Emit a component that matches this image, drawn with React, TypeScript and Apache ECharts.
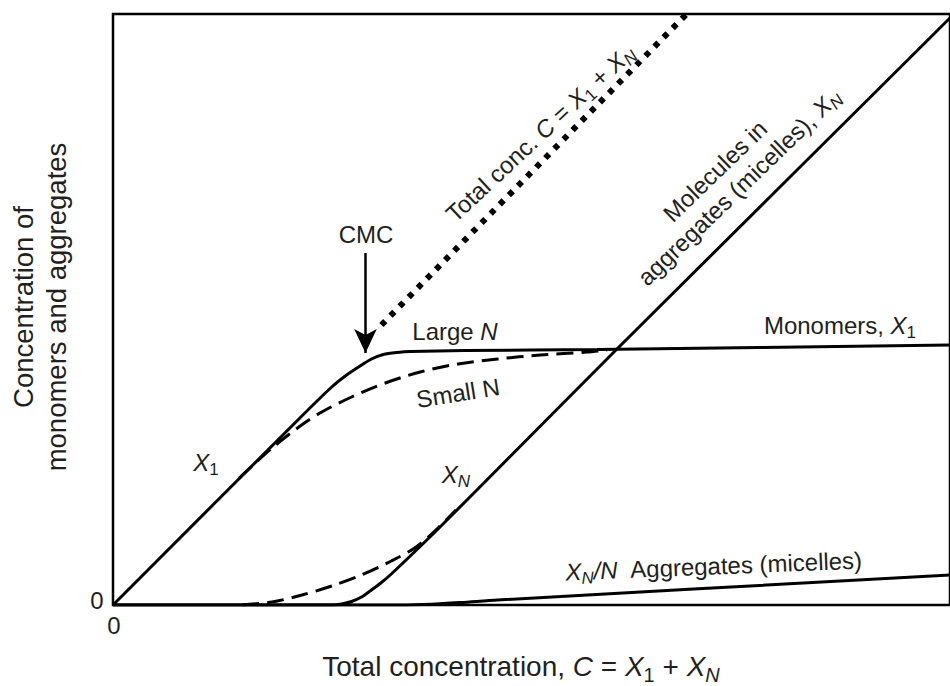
import React, { useEffect, useRef } from "react";
import * as echarts from "echarts";

// Schematic units (arbitrary): x = total concentration C, y = concentration
const X_MAX = 8.42;
const Y_MAX = 5.91;

// Monomers X1, large N (solid)
const monomerLargeN: number[][] = [
  [0, 0], [1.87, 1.86], [2.2, 2.18], [2.35, 2.3], [2.47, 2.38], [2.6, 2.46],
  [2.72, 2.505], [2.86, 2.525], [2.99, 2.535], [3.54, 2.545], [4.87, 2.555], [8.42, 2.6],
];
// Monomers X1, small N (dashed)
const monomerSmallN: number[][] = [
  [1.27, 1.27], [1.6, 1.57], [1.87, 1.78], [2.1, 1.93], [2.4, 2.08], [2.74, 2.22],
  [3.09, 2.33], [3.47, 2.41], [3.87, 2.46], [4.3, 2.5], [4.77, 2.53], [4.97, 2.55],
];
// Molecules in aggregates XN, large N (solid)
const aggLargeN: number[][] = [
  [0, 0], [2.2, 0], [2.3, 0.01], [2.4, 0.035], [2.5, 0.08], [2.6, 0.15], [2.7, 0.225],
  [2.8, 0.31], [3.27, 0.76], [4.07, 1.56], [5.07, 2.56], [8.42, 5.87],
];
// Molecules in aggregates XN, small N (dashed)
const aggSmallN: number[][] = [
  [1.3, 0], [1.6, 0.03], [1.9, 0.1], [2.2, 0.19], [2.5, 0.3], [2.8, 0.44],
  [3.05, 0.58], [3.27, 0.77], [3.45, 0.95],
];
// Aggregates (micelles) XN/N
const micelles: number[][] = [
  [0, 0], [2.9, 0], [3.2, 0.008], [3.5, 0.025], [3.87, 0.05], [8.42, 0.3],
];
// Total concentration C = X1 + XN (dotted)
const totalConc: number[][] = [
  [2.7, 2.8], [5.77, 5.91],
];
// CMC arrow
const cmcX = 2.54;
const cmcArrow: number[] = [3.52, 2.52];
// tick labels (only the origin is labelled on both axes)
const xTickLabels: number[] = [0];
const yTickLabels: number[] = [0];

const FONT = "'Liberation Sans', Arial, Helvetica, sans-serif";
const INK = "#231f20";

const rich = (fs: number) => ({
  n: { fontSize: fs, fontFamily: FONT, fill: INK, color: INK },
  i: { fontSize: fs, fontFamily: FONT, fontStyle: "italic", fill: INK, color: INK },
  s: { fontSize: Math.round(fs * 0.72), fontFamily: FONT, fill: INK, color: INK, padding: [Math.round(fs * 0.6), 0, 0, 0] },
  si: { fontSize: Math.round(fs * 0.72), fontFamily: FONT, fontStyle: "italic", fill: INK, color: INK, padding: [Math.round(fs * 0.6), 0, 0, 0] },
});

const label = (text: string, x: number, y: number, fs: number, rotDeg = 0, lineHeight?: number) => ({
  type: "text",
  x,
  y,
  rotation: (rotDeg * Math.PI) / 180,
  silent: true,
  z: 100,
  style: {
    text,
    rich: rich(fs),
    fontSize: fs,
    fontFamily: FONT,
    fill: INK,
    align: "center",
    verticalAlign: "middle",
    textAlign: "center",
    textVerticalAlign: "middle",
    lineHeight,
  },
});

const lineSeries = (name: string, data: number[][], type: any, width: number, smooth: number) => ({
  name,
  type: "line",
  data,
  showSymbol: false,
  symbol: "none",
  smooth,
  lineStyle: { color: "#000", width, type, cap: "butt" },
  z: 5,
});

export default function App() {
  const ref = useRef<HTMLDivElement>(null);
  useEffect(() => {
    if (!ref.current) return;
    const chart = echarts.init(ref.current, null, { renderer: "svg" });
    const graphics: any[] = [
      label("{n|Total concentration, }{i|C}{n| = }{i|X}{s|1}{n| + }{i|X}{si|N}", 521, 666, 28),
      label("{n|Concentration of}\n{n|monomers and aggregates}", 40, 307, 27.5, 90, 33),
      label("{n|CMC}", 366, 234, 24),
      label("{n|Large }{i|N}", 455, 331, 24),
      label("{n|Small N}", 458, 393, 24, 9),
      label("{i|X}{s|1}", 206, 462, 24),
      label("{i|X}{si|N}", 456, 474, 24),
      label("{i|X}{si|N}{i|/N}{n|  Aggregates (micelles)}", 714, 566, 24, 2.3),
      label("{n|Monomers, }{i|X}{s|1}", 840, 325, 24),
      label("{n|Total conc. }{i|C}{n| = }{i|X}{s|1}{n| + }{i|X}{si|N}", 540, 133, 24, 43),
      label("{n|Molecules in}", 715, 171, 24, 44),
      label("{n|aggregates (micelles), }{i|X}{si|N}", 739, 187, 24, 44),
    ];
    const option: any = {
      animation: false,
      backgroundColor: "#fff",
      grid: {
        left: 113,
        right: -5,
        top: 14,
        bottom: 81,
        show: true,
        borderColor: "#000",
        borderWidth: 2.5,
        backgroundColor: "transparent",
      },
      xAxis: {
        type: "value",
        min: 0,
        max: X_MAX,
        axisLine: { show: false },
        axisTick: { show: false },
        splitLine: { show: false },
        axisLabel: { show: false },
      },
      yAxis: {
        type: "value",
        min: 0,
        max: Y_MAX,
        axisLine: { show: false },
        axisTick: { show: false },
        splitLine: { show: false },
        axisLabel: { show: false },
      },
      series: [
        lineSeries("Monomers large N", monomerLargeN, "solid", 3, 0.25),
        lineSeries("Monomers small N", monomerSmallN, [17, 8], 3, 0.3),
        lineSeries("XN large N", aggLargeN, "solid", 3, 0.25),
        lineSeries("XN small N", aggSmallN, [17, 8], 3, 0.3),
        lineSeries("XN/N", micelles, "solid", 3, 0.3),
        {
          ...lineSeries("Total", totalConc, [5.5, 7.5], 6, 0),
          markLine: {
            silent: true,
            symbol: ["none", "arrow"],
            symbolSize: [17, 24],
            label: { show: false },
            lineStyle: { color: "#000", width: 2.5, type: "solid" },
            data: [[{ coord: [cmcX, cmcArrow[0]] }, { coord: [cmcX, cmcArrow[1]] }]],
          },
        },
      ],
      graphic: graphics,
    };
    chart.setOption(option);
    // Tick labels placed through the chart's own scales
    const tickGraphics: any[] = [];
    xTickLabels.forEach((v) => {
      const p = chart.convertToPixel({ gridIndex: 0 }, [v, 0]) as number[];
      tickGraphics.push(label(`{n|${v}}`, p[0] + 1, p[1] + 20, 24));
    });
    yTickLabels.forEach((v) => {
      const p = chart.convertToPixel({ gridIndex: 0 }, [0, v]) as number[];
      tickGraphics.push(label(`{n|${v}}`, p[0] - 16, p[1] - 5, 24));
    });
    chart.setOption({ ...option, graphic: [...graphics, ...tickGraphics] });
    return () => chart.dispose();
  }, []);
  return (
    <div
      ref={ref}
      style={{ position: "fixed", left: 0, top: 0, width: 950, height: 686, background: "#fff" }}
    />
  );
}
